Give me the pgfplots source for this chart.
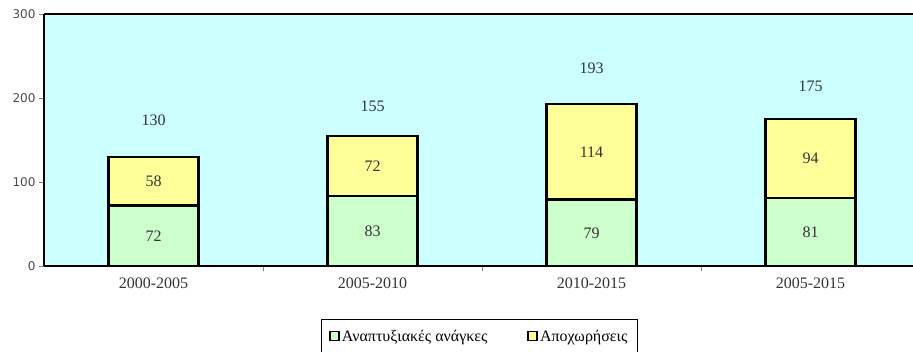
\documentclass[border=0pt]{standalone}
\usepackage{fontspec}
\setmainfont{Liberation Serif}
\newfontfamily\tickfont{DejaVu Sans}
\usepackage{pgfplots}
\pgfplotsset{compat=1.18}
\definecolor{bgc}{HTML}{CCFFFF}
\definecolor{grn}{HTML}{CCFFCC}
\definecolor{yel}{HTML}{FFFF99}
\definecolor{lbl}{HTML}{333333}
\begin{document}
\begin{tikzpicture}
\begin{axis}[
  at={(0pt,0pt)}, anchor=south west,
  scale only axis, width=869pt, height=252pt,
  xmin=-0.5, xmax=3.468, ymin=0, ymax=300,
  enlargelimits=false,
  axis x line*=box, axis y line*=left,
  axis line style={line width=2.5pt, black},
  axis background/.style={fill=bgc},
  ybar stacked, bar width=90pt,
  /pgf/number format/assume math mode=true,
  xtick={0,1,2,3},
  xticklabels={2000-2005,2005-2010,2010-2015,2005-2015},
  every major x tick/.append style={draw=none},
  minor xtick={0.5,1.5,2.5},
  minor x tick style={draw=gray, line width=0.8pt},
  minor tick length=5pt,
  xtick pos=bottom, ytick pos=left,
  ytick={0,100,200,300},
  ytick style={draw=gray, line width=0.8pt},
  tick align=outside,
  major tick length=5pt,
  xticklabel style={font=\fontsize{16}{16}\selectfont, text=lbl, yshift=-3pt},
  yticklabel style={font=\tickfont\fontsize{12}{12}\selectfont, text=gray!60!black},
  legend columns=2,
  legend style={at={(0.3188,-0.2103)}, anchor=north west, draw=black, line width=0.6pt,
    font=\fontsize{16}{16}\selectfont, inner xsep=8pt, inner ysep=9pt,
    /tikz/every even column/.append style={column sep=38pt}},
  legend image code/.code={\draw[#1, draw=black, line width=1.6pt] (0pt,-4pt) rectangle (9pt,5pt);},
  nodes near coords style={font=\fontsize{16}{16}\selectfont, text=lbl},
]
\addplot[fill=grn, draw=black, line width=2.3pt,
  nodes near coords, point meta=explicit symbolic,
  every node near coord/.append style={anchor=center}]
  coordinates {(0,72)[72] (1,83)[83] (2,79)[79] (3,81)[81]};
\addlegendentry{Αναπτυξιακές ανάγκες}
\addplot[fill=yel, draw=black, line width=2.3pt,
  nodes near coords, point meta=explicit symbolic,
  every node near coord/.append style={anchor=center}]
  coordinates {(0,58)[58] (1,72)[72] (2,114)[114] (3,94)[94]};
\addlegendentry{Αποχωρήσεις}
\addplot[draw=none, fill=none, forget plot,
  nodes near coords, point meta=explicit symbolic,
  every node near coord/.append style={anchor=center, text=lbl}]
  coordinates {(0,86)[130] (1,71)[155] (2,85)[193] (3,77)[175]};
\end{axis}
\pgfresetboundingbox
\useasboundingbox (-44pt,-85pt) rectangle (869pt,266pt);
\end{tikzpicture}
\end{document}
